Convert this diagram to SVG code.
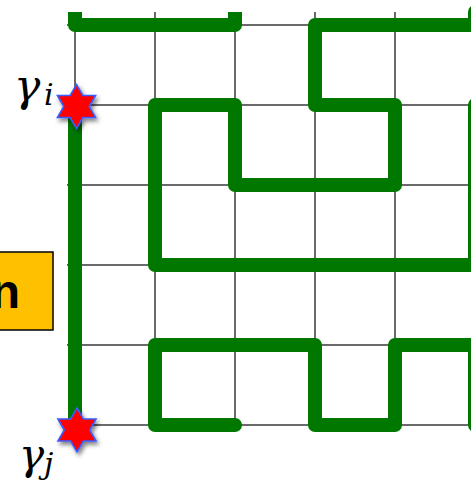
<svg xmlns="http://www.w3.org/2000/svg" width="471" height="482" viewBox="0 0 471 482">
<style>
.grid{stroke:#3a3a3a;stroke-width:1.5;fill:none}
.wire{stroke:#007800;stroke-width:14;fill:none;stroke-linejoin:round}
.star{fill:#ff0000;stroke:#3a5cff;stroke-width:1.6;stroke-linejoin:miter}
.lbl{font-family:"DejaVu Serif","Liberation Serif",serif;font-style:italic;fill:#000}
.box{fill:#ffc000;stroke:#000;stroke-width:1.5}
.btxt{font-family:"Liberation Sans",Arial,sans-serif;font-weight:bold;font-size:48px;fill:#000}
</style>
<defs>
<polygon id="hex" points="0,-22 6.35,-11 19.05,-11 12.7,0 19.05,11 6.35,11 0,22 -6.35,11 -19.05,11 -12.7,0 -19.05,-11 -6.35,-11"/>
<filter id="sh" x="-50%" y="-50%" width="200%" height="200%">
<feDropShadow dx="2" dy="3" stdDeviation="2.2" flood-color="#000" flood-opacity="0.5"/>
</filter>
</defs>
<rect width="471" height="482" fill="#fff"/>
<g id="grid" class="grid">
<path d="M75,12V425M155,12V425M235,12V425M315,12V425M395,12V425M475,12V425"/>
<path d="M67,25H471M67,105H471M67,185H471M67,265H471M67,345H471M67,425H471"/>
</g>
<g id="connectors">
<path class="wire" d="M75,12V25H235V12"/>
<path class="wire" stroke-linecap="round" d="M475,12V25H315V105H395V185H235V105H155V265H475V105H490"/>
<path class="wire" d="M75,105V425"/>
<path class="wire" stroke-linecap="round" d="M235,425H155V345H315V425H395V345H475V425H490"/>
</g>
<g id="box-n">
<rect class="box" x="-2" y="252" width="55" height="78"/>
<text class="btxt" x="20" y="308" text-anchor="end">n</text>
</g>
<g id="star-i">
<use href="#hex" class="star" filter="url(#sh)" transform="translate(76.5,106.5)"/>
<text class="lbl" y="101"><tspan x="14" font-size="44">γ</tspan><tspan x="44" font-size="30" y="105">i</tspan></text>
</g>
<g id="star-j">
<use href="#hex" class="star" filter="url(#sh)" transform="translate(77,430)"/>
<text class="lbl" y="469"><tspan x="19" font-size="42">γ</tspan><tspan x="44" font-size="30" y="474">j</tspan></text>
</g>
</svg>
